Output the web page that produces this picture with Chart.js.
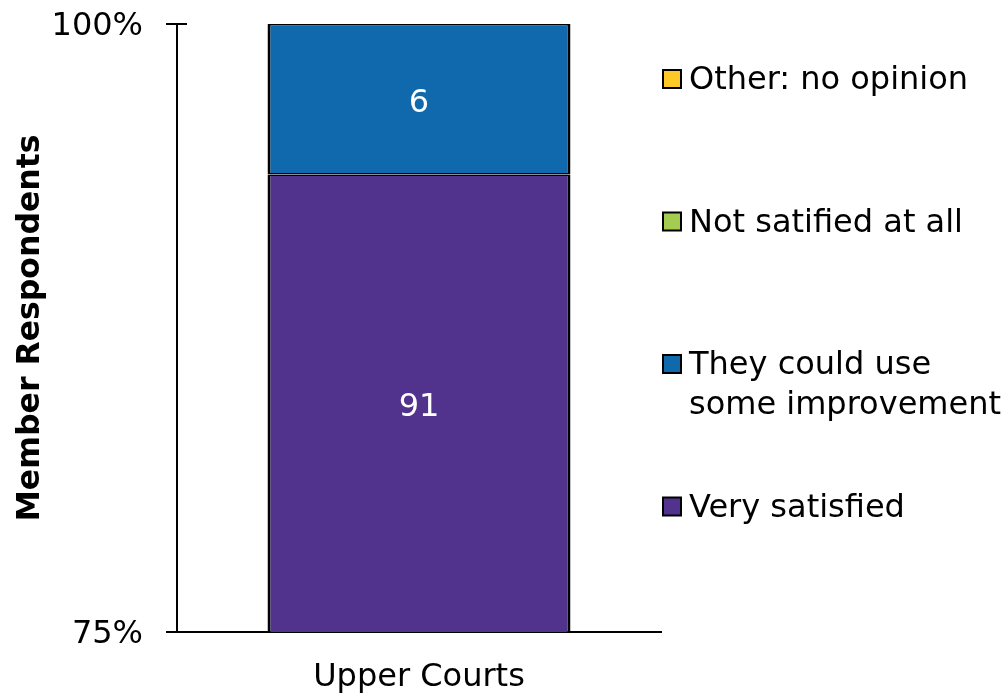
<!DOCTYPE html>
<html>
<head>
<meta charset="utf-8">
<script src="https://cdn.jsdelivr.net/npm/chart.js@4.4.0/dist/chart.umd.min.js"></script>
<style>
    html, body { margin: 0; padding: 0; background: #fff; }
    #contenedor { width: 1002px; height: 693px; }
</style>
</head>
<body>
<div id="contenedor"><canvas id="grafico"></canvas></div>
<script>
const categorias = ['Upper Courts'];
const nombresSeries = ['Very satisfied', 'They could use\nsome improvement', 'Not satified at all', 'Other: no opinion'];
const muySatisfecho = [91];
const mejorable = [6];
const nadaSatisfecho = [0];
const sinOpinion = [0];
const colores = ['#51338d', '#1068ad', '#a4cc50', '#ffc829'];
const ticksY = [75, 100];

const fuente = 'DejaVu Sans';
const valores = [muySatisfecho, mejorable, nadaSatisfecho, sinOpinion];

// total por categoria -> porcentaje (barra apilada al 100%)
const totales = categorias.map((c, i) => valores.reduce((s, serie) => s + serie[i], 0));
const porcentajes = valores.map(serie => serie.map((v, i) => v / totales[i] * 100));

// etiquetas blancas con el conteo, centradas en la parte visible
const etiquetasBarras = {
    id: 'etiquetasBarras',
    afterDatasetsDraw(chart) {
        const ctx = chart.ctx;
        const area = chart.chartArea;
        ctx.save();
        ctx.font = '32px "' + fuente + '"';
        ctx.fillStyle = '#fff';
        ctx.textAlign = 'center';
        ctx.textBaseline = 'middle';
        chart.data.datasets.forEach((ds, di) => {
            chart.getDatasetMeta(di).data.forEach((bar, i) => {
                const conteo = valores[di][i];
                if (!conteo) return;
                const arriba = Math.max(bar.y, area.top);
                const abajo = Math.min(bar.base, area.bottom);
                ctx.fillText(String(conteo), bar.x, (arriba + abajo) / 2 + 4);
            });
        });
        ctx.restore();
    }
};

// marcas de los ticks cruzando el eje y
const marcasEje = {
    id: 'marcasEje',
    afterDraw(chart) {
        const ctx = chart.ctx;
        const y = chart.scales.y;
        const area = chart.chartArea;
        ctx.save();
        ctx.strokeStyle = '#000';
        ctx.lineWidth = 2;
        y.ticks.forEach(t => {
            const py = y.getPixelForValue(t.value);
            ctx.beginPath();
            ctx.moveTo(area.left, py);
            ctx.lineTo(area.left + 10, py);
            ctx.stroke();
        });
        ctx.restore();
    }
};

// leyenda a la derecha, en orden inverso
const leyenda = {
    id: 'leyenda',
    afterDraw(chart) {
        const ctx = chart.ctx;
        const x = 663, y0 = 79, paso = 142.5, lado = 18, alto = 40;
        ctx.save();
        ctx.font = '32px "' + fuente + '"';
        ctx.textBaseline = 'middle';
        ctx.textAlign = 'left';
        const ds = chart.data.datasets.slice().reverse();
        ds.forEach((d, k) => {
            const cy = y0 + k * paso;
            ctx.fillStyle = d.backgroundColor;
            ctx.fillRect(x, cy - lado / 2, lado, lado);
            ctx.strokeStyle = '#000';
            ctx.lineWidth = 2;
            ctx.strokeRect(x, cy - lado / 2, lado, lado);
            ctx.fillStyle = '#000';
            d.label.split('\n').forEach((linea, j) => {
                ctx.fillText(linea, x + 26, cy + 2 + j * alto);
            });
        });
        ctx.restore();
    }
};

new Chart(document.getElementById('grafico'), {
    type: 'bar',
    data: {
        labels: categorias,
        datasets: nombresSeries.map((n, i) => ({
            label: n,
            data: porcentajes[i],
            backgroundColor: colores[i],
            borderColor: '#000',
            borderWidth: { top: 1.5, bottom: 1.5, left: 3, right: 3 },
            borderSkipped: false,
            inflateAmount: 0,
            categoryPercentage: 1,
            barPercentage: 0.626
        }))
    },
    options: {
        responsive: true,
        maintainAspectRatio: false,
        animation: false,
        layout: { padding: { top: 24, right: 341, left: 0, bottom: 0 } },
        plugins: {
            legend: { display: false },
            tooltip: { enabled: false }
        },
        scales: {
            x: {
                stacked: true,
                grid: { display: false },
                border: { display: true, color: '#000', width: 2 },
                ticks: {
                    color: '#000',
                    font: { family: fuente, size: 32 },
                    padding: 18
                },
                afterFit(s) { s.height = 61; }
            },
            y: {
                stacked: true,
                min: 75,
                max: 100,
                afterBuildTicks(s) { s.ticks = ticksY.map(v => ({ value: v })); },
                grid: {
                    display: true,
                    drawOnChartArea: false,
                    drawTicks: true,
                    tickLength: 11,
                    color: '#000',
                    lineWidth: 2
                },
                border: { display: true, color: '#000', width: 2 },
                ticks: {
                    color: '#000',
                    font: { family: fuente, size: 32 },
                    padding: 23,
                    labelOffset: 3,
                    callback: v => v + '%'
                },
                title: {
                    display: true,
                    text: 'Member Respondents',
                    color: '#000',
                    font: { family: fuente, size: 31.5, weight: 'bold' },
                    padding: { top: 12, bottom: 0 }
                },
                afterFit(s) {
                    s.width = 177;
                    s.paddingTop = 0;
                    s.paddingBottom = 0;
                }
            }
        }
    },
    plugins: [etiquetasBarras, marcasEje, leyenda]
});
</script>
</body>
</html>
